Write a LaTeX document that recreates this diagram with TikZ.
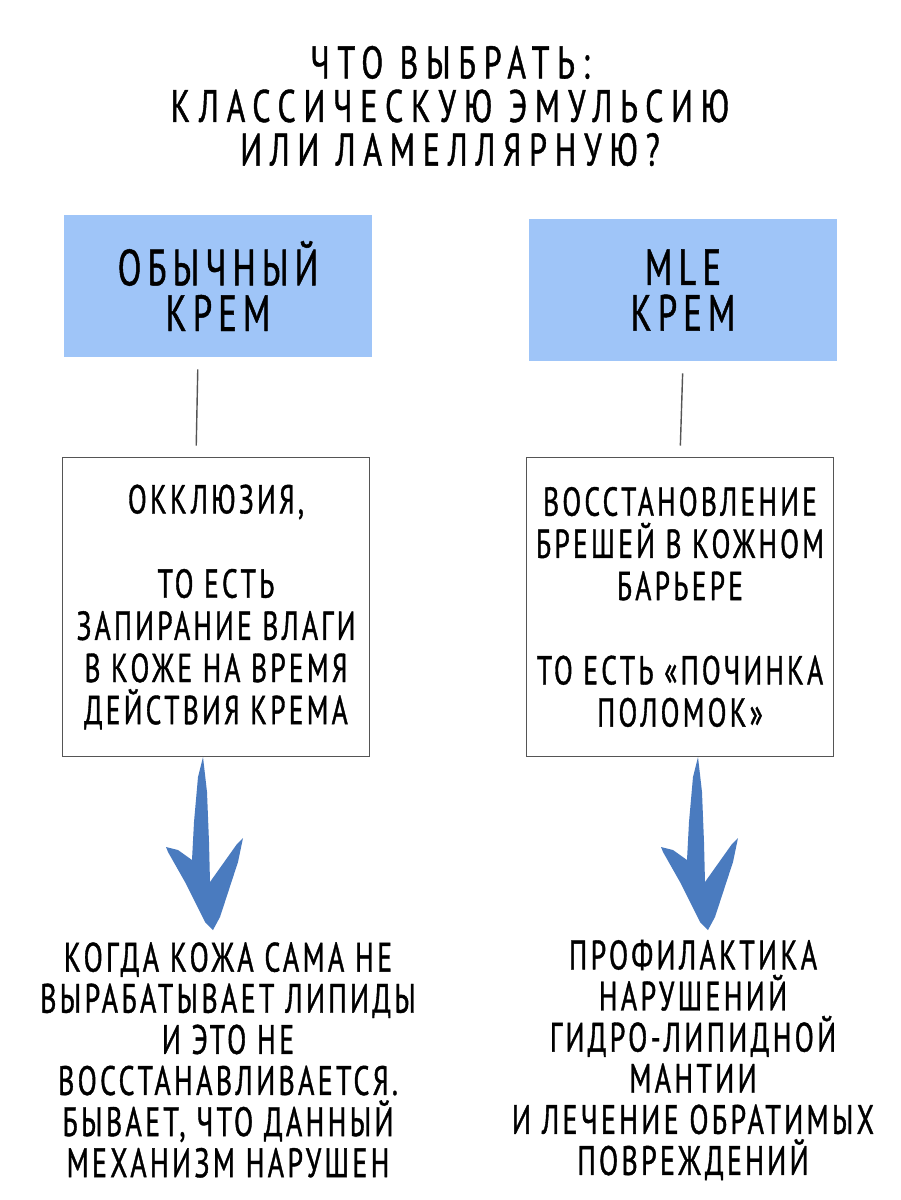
\documentclass[tikz,border=0pt]{standalone}
\usepackage{fontspec}
\setmainfont{PT Sans}[FakeStretch=0.68,LetterSpace=8,FakeBold=0.9]
\newfontfamily\titlefont{PT Sans}[FakeStretch=0.7,LetterSpace=17,FakeBold=0.9]
\newfontfamily\headfont{PT Sans}[FakeStretch=0.68,LetterSpace=12,FakeBold=0.9]
\usepackage{xcolor}
\usepackage{tikz}
\setlength{\lineskiplimit}{-100pt}

\definecolor{headblue}{HTML}{9FC5F8}
\definecolor{arrowblue}{HTML}{4A7BBF}
\definecolor{boxgray}{HTML}{555555}

\tikzset{
  titletext/.style={align=center, font=\titlefont\fontsize{26}{24.8}\selectfont},
  headbox/.style={fill=headblue, minimum width=6.16cm, minimum height=2.86cm, align=center,
    font=\headfont\fontsize{29}{26}\selectfont},
  fxbox/.style={draw=boxgray, line width=0.6pt, minimum width=6.14cm, minimum height=5.98cm, align=center,
    font=\fontsize{23}{24}\selectfont},
  usetext/.style={align=center, font=\fontsize{23.4}{23.4}\selectfont},
  link/.style={draw=boxgray, line width=0.8pt, shorten <=0.23cm, shorten >=0.23cm},
  brush/.pic={
    \fill[arrowblue] (0,0) -- (4,35) -- (6,85) -- (7,125) -- (34,87) -- (40,81) -- (35,105)
      -- (17,160) -- (10,173) -- (2,165) -- (-18,125) -- (-35,95) -- (-37,90) -- (-25,93)
      -- (-11,103) -- (-9,65) -- (-5,20) -- cycle;
  }
}

\begin{document}
\begin{tikzpicture}[x=0.02cm,y=-0.02cm]
\fill[white] (0,0) rectangle (900,1200);
\useasboundingbox (0,0) rectangle (900,1200);

% title
\node[titletext] (title) at (450,106) {ЧТО ВЫБРАТЬ:\\КЛАССИЧЕСКУЮ ЭМУЛЬСИЮ\\ИЛИ ЛАМЕЛЛЯРНУЮ?};

% the two creams
\node[headbox] (plain) at (218,286) {ОБЫЧНЫЙ\\КРЕМ};
\node[headbox] (mle) at (683,290) {MLE\\КРЕМ};

% what they do
\node[fxbox] (plainfx) at (216,607) {ОККЛЮЗИЯ,\\[\baselineskip]ТО ЕСТЬ\\ЗАПИРАНИЕ ВЛАГИ\\В КОЖЕ НА ВРЕМЯ\\ДЕЙСТВИЯ КРЕМА};
\node[fxbox] (mlefx) at (680,607) {ВОССТАНОВЛЕНИЕ\\БРЕШЕЙ В КОЖНОМ\\БАРЬЕРЕ\\[\baselineskip]ТО ЕСТЬ «ПОЧИНКА\\ПОЛОМОК»};

\draw[link] ([xshift=-0.4cm]plain.south) -- ([xshift=-0.4cm]plainfx.north);
\draw[link] (mle.south) -- (mlefx.north);

\pic at ([xshift=-0.26cm]plainfx.south) {brush};
\pic at ([xshift=0.36cm]mlefx.south) {brush};

% when to use
\node[usetext] (plainuse) at (228,1060) {КОГДА КОЖА САМА НЕ\\ВЫРАБАТЫВАЕТ ЛИПИДЫ\\И ЭТО НЕ\\ВОССТАНАВЛИВАЕТСЯ.\\БЫВАЕТ, ЧТО ДАННЫЙ\\МЕХАНИЗМ НАРУШЕН};
\node[usetext] (mleuse) at (693,1060) {ПРОФИЛАКТИКА\\НАРУШЕНИЙ\\ГИДРО-ЛИПИДНОЙ\\МАНТИИ\\И ЛЕЧЕНИЕ ОБРАТИМЫХ\\ПОВРЕЖДЕНИЙ};

\end{tikzpicture}
\end{document}
